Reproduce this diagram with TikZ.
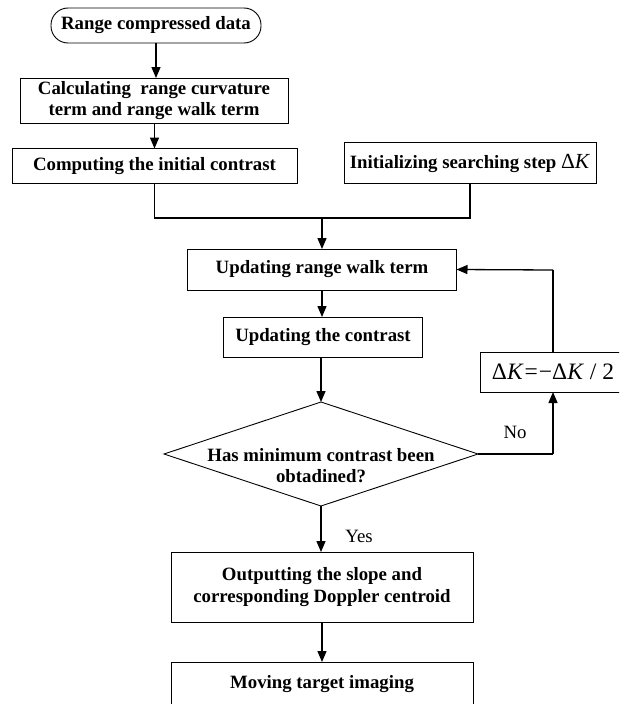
\documentclass[tikz,border=0pt]{standalone}
\usepackage{fontspec}
\setmainfont{Liberation Serif}
\usetikzlibrary{arrows.meta,shapes.geometric}
\begin{document}
\begin{tikzpicture}[x=1pt,y=-1pt,
  every node/.style={inner sep=0pt, outer sep=0pt},
  bx/.style={draw=black, line width=0.9pt, rectangle, align=center,
    font=\bfseries\fontsize{18.8}{21}\selectfont},
  term/.style={bx, rounded corners=17pt},
  dia/.style={draw=black, line width=0.9pt, diamond},
  lbl/.style={font=\fontsize{18.8}{21}\selectfont},
  conn/.style={line width=1.3pt},
  arr/.style={conn, -{Triangle[length=11pt,width=9pt]}}
]
\useasboundingbox (0,0) rectangle (619,704);
\clip (0,0) rectangle (619,704);

\node[term, minimum width=210pt, minimum height=35pt] (start) at (156,25.5) {Range compressed data};
\node[bx, minimum width=268pt, minimum height=45pt] (calc) at (154,100.5) {Calculating\ \ range curvature\\term and range walk term};
\node[bx, minimum width=285pt, minimum height=35pt] (comp) at (154.5,166) {Computing the initial contrast};
\node[bx, minimum width=252pt, minimum height=41pt] (init) at (470,163) {Initializing searching step {\normalfont\fontsize{21.5}{22}\selectfont Δ\textit{K}}};
\node[bx, minimum width=269pt, minimum height=41pt] (upd) at (322,269.5) {Updating range walk term};
\node[bx, minimum width=199pt, minimum height=40pt] (updc) at (323,337) {Updating the contrast};
\node[dia, minimum width=314pt, minimum height=104pt] (dec) at (321,454) {};
\node[align=center, font=\bfseries\fontsize{18.8}{21}\selectfont] (dectext) at (321,466) {Has minimum contrast been\\obtadined?};
\node[bx, minimum width=146pt, minimum height=40pt, font=\fontsize{23.5}{25}\selectfont] (dk) at (553,372) {Δ\textit{K}\kern1pt=\kern1pt−Δ\textit{K} / 2};
\node[bx, minimum width=302pt, minimum height=70pt, font=\bfseries\fontsize{18.8}{22}\selectfont] (out) at (322,587) {Outputting the slope and\\corresponding Doppler centroid};
\node[bx, minimum width=302pt, minimum height=44pt] (mov) at (322,684) {Moving target imaging};

\node[lbl] (yes) at (359,536) {Yes};
\node[lbl] (no) at (515,432) {No};

\coordinate (j) at (322,218);
\coordinate (rb) at (553,454);
\coordinate (rt) at (553,270);

\draw[arr] (start.south) -- (calc.north -| start.south);
\draw[arr] (calc.south -| comp.north) -- (comp.north);
\draw[conn] (comp.south) |- (j) -| (init.south);
\draw[arr] (j) -- (upd.north);
\draw[arr] (upd.south) -- (updc.north -| upd.south);
\draw[arr] (updc.south -| dec.north) -- (dec.north);
\draw[conn] (dec.east) -- (rb);
\draw[arr] (rb) -- (dk.south);
\draw[conn] (dk.north) -- (rt);
\draw[arr] (rt) -- (upd.east);
\draw[arr] (dec.south) -- (out.north -| dec.south);
\draw[arr] (out.south) -- (mov.north);
\end{tikzpicture}
\end{document}
